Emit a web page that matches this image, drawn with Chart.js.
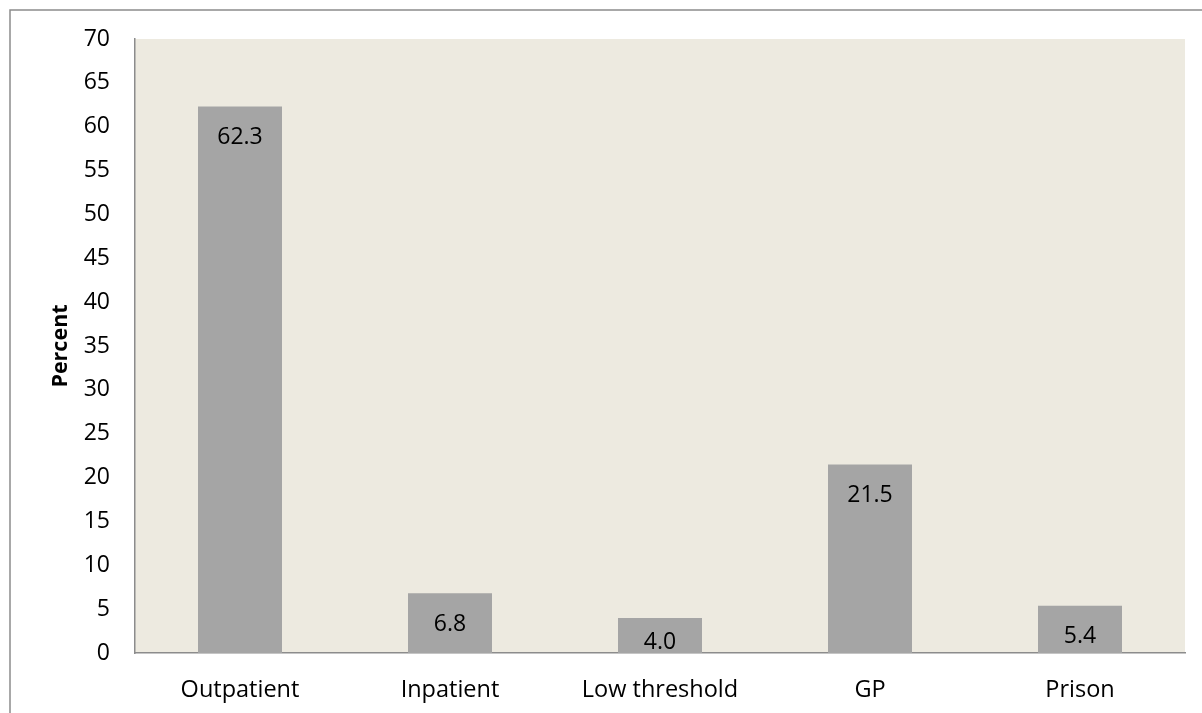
<!DOCTYPE html>
<html>
<head>
<meta charset="utf-8">
<script src="https://cdn.jsdelivr.net/npm/chart.js@4"></script>
<style>
  html, body { margin: 0; padding: 0; background: #fff; }
  #wrap { position: relative; width: 1202px; height: 713px; }
</style>
</head>
<body>
<div id="wrap"><canvas id="barChart" width="1202" height="713"></canvas></div>
<script>
const categories = ['Outpatient', 'Inpatient', 'Low threshold', 'GP', 'Prison'];
const percentValues = [62.3, 6.8, 4.0, 21.5, 5.4];
const yMin = 0;
const yMax = 70;
const yStep = 5;

const fontFamily = "'Open Sans', 'DejaVu Sans', sans-serif";

// frame lines and the beige plot area
const backgroundPlugin = {
	id: 'background',
	beforeDraw(chart) {
		const ctx = chart.ctx;
		const area = chart.chartArea;
		ctx.save();
		ctx.fillStyle = '#ffffff';
		ctx.fillRect(0, 0, chart.width, chart.height);
		ctx.strokeStyle = '#8c8c8c';
		ctx.lineWidth = 1.5;
		ctx.beginPath();
		ctx.moveTo(10, chart.height);
		ctx.lineTo(10, 10);
		ctx.lineTo(chart.width, 10);
		ctx.stroke();
		ctx.fillStyle = '#edeae0';
		ctx.fillRect(area.left, area.top, area.right - area.left, area.bottom - area.top);
		ctx.restore();
	}
};

// value labels inside the top of each bar
const valueLabelPlugin = {
	id: 'valueLabels',
	afterDatasetsDraw(chart) {
		const ctx = chart.ctx;
		const meta = chart.getDatasetMeta(0);
		ctx.save();
		ctx.font = '23px ' + fontFamily;
		ctx.fillStyle = '#000000';
		ctx.textAlign = 'center';
		ctx.textBaseline = 'middle';
		meta.data.forEach((bar, i) => {
			const y = Math.min(bar.y + 31, bar.base - 11);
			ctx.fillText(percentValues[i].toFixed(1), bar.x, y);
		});
		ctx.restore();
	}
};

function createChart() {
	const ctx = document.getElementById('barChart').getContext('2d');
	new Chart(ctx, {
		type: 'bar',
		data: {
			labels: categories,
			datasets: [{
				label: 'Percent',
				data: percentValues,
				backgroundColor: '#a5a5a5',
				borderWidth: 0,
				barPercentage: 0.4,
				categoryPercentage: 1.0
			}]
		},
		options: {
			responsive: false,
			animation: false,
			layout: {
				padding: { left: 0, top: 39, right: 17, bottom: 0 }
			},
			plugins: {
				legend: { display: false },
				tooltip: { enabled: false }
			},
			scales: {
				x: {
					grid: { display: false, drawTicks: false },
					border: { display: true, color: '#8c8c8c', width: 1.5 },
					ticks: {
						color: '#000000',
						font: { family: fontFamily, size: 23.5 },
						padding: 23,
						maxRotation: 0
					},
					afterFit(scale) { scale.height = 60; }
				},
				y: {
					min: yMin,
					max: yMax,
					grid: { display: false, drawTicks: false },
					border: { display: true, color: '#8c8c8c', width: 1.5 },
					ticks: {
						stepSize: yStep,
						color: '#000000',
						font: { family: fontFamily, size: 23 },
						padding: 25
					},
					title: {
						display: true,
						text: 'Percent',
						color: '#000000',
						font: { family: fontFamily, size: 21.5, weight: 'bold' },
						padding: { top: 48, bottom: 0 }
					},
					afterFit(scale) { scale.width = 135; }
				}
			}
		},
		plugins: [backgroundPlugin, valueLabelPlugin]
	});
}

document.addEventListener('DOMContentLoaded', createChart);
</script>
</body>
</html>
